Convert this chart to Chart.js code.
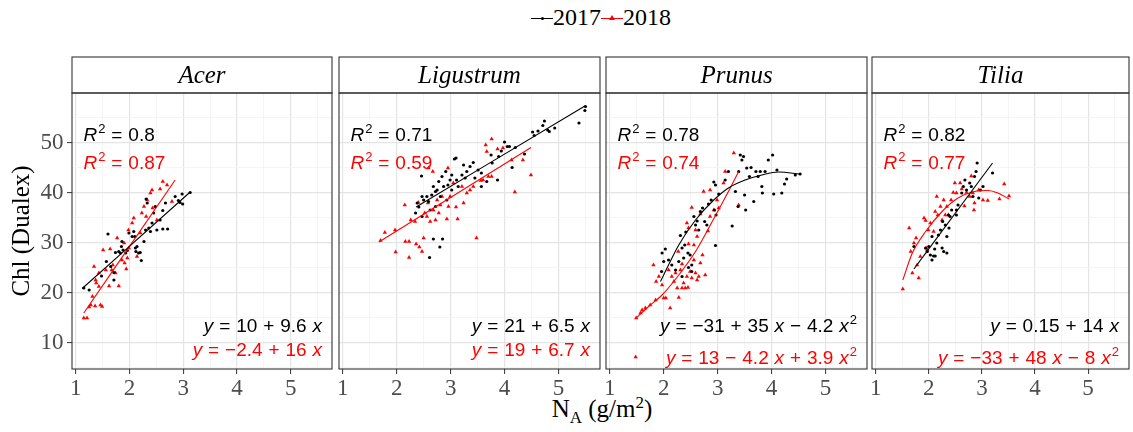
<!DOCTYPE html>
<html>
<head>
<meta charset="utf-8">
<script src="https://cdn.jsdelivr.net/npm/chart.js@4.4.0/dist/chart.umd.min.js"></script>
<style>
  body { margin: 0; width: 1133px; height: 432px; overflow: hidden; background: #fff; position: relative; font-family: 'Liberation Serif', serif; }
  canvas { position: absolute; top: 0; }
  #legend { position: absolute; top: 2px; left: 531px; font-size: 24px; line-height: 30px; white-space: nowrap; color: #000; }
  .key { display: inline-block; position: relative; width: 22px; height: 14px; }
  .key .ln { position: absolute; left: 0; right: 0; top: 7px; height: 1px; }
  .key .dot { position: absolute; left: 9.5px; top: 6px; width: 3px; height: 3px; border-radius: 50%; background: #000; }
  .key .tri { position: absolute; left: 8px; top: 4px; width: 0; height: 0; border-left: 3px solid transparent; border-right: 3px solid transparent; border-bottom: 5px solid #f00; }
  #xtitle { position: absolute; left: 72px; width: 1060px; top: 394px; text-align: center; font-size: 25px; line-height: 30px; color: #000; }
  #xtitle sub, #xtitle sup { font-size: 0.68em; line-height: 0; }
</style>
</head>
<body>
<div id="legend"></div>
<div id="xtitle">N<sub>A</sub> (g/m<sup>2</sup>)</div>
<script>
// categories
const species = ['Acer', 'Ligustrum', 'Prunus', 'Tilia'];
const years = ['2017', '2018'];

// axis ticks
const xTicks = [1, 1.5, 2, 2.5, 3, 3.5, 4, 4.5, 5, 5.5];
const xLabels = [1, 2, 3, 4, 5];
const yTicks = [5, 10, 15, 20, 25, 30, 35, 40, 45, 50, 55];
const yLabels = [10, 20, 30, 40, 50];

// annotations
const r2017 = ['0.8', '0.71', '0.78', '0.82'];
const r2018 = ['0.87', '0.59', '0.74', '0.77'];
const eq2017 = ['y = 10 + 9.6 x', 'y = 21 + 6.5 x', 'y = \u221231 + 35 x \u2212 4.2 x^2', 'y = 0.15 + 14 x'];
const eq2018 = ['y = \u22122.4 + 16 x', 'y = 19 + 6.7 x', 'y = 13 \u2212 4.2 x + 3.9 x^2', 'y = \u221233 + 48 x \u2212 8 x^2'];

// points [NA, Chl]
const acer2017 = [[1.15,20.9],[1.25,20.5],[1.48,23.3],[1.57,26.2],[1.60,31.7],[1.65,25.2],[1.71,24.0],[1.71,22.5],[1.74,28.0],[1.80,28.2],[1.83,27.9],[1.85,29.2],[1.86,30.2],[1.88,28.5],[1.93,27.9],[1.96,28.4],[1.99,31.9],[2.05,31.2],[2.08,32.2],[2.10,31.2],[2.11,28.9],[2.12,28.2],[2.14,29.2],[2.17,27.9],[2.20,28.0],[2.22,26.4],[2.27,30.2],[2.30,32.5],[2.31,38.7],[2.33,37.9],[2.36,32.9],[2.39,32.2],[2.42,33.9],[2.45,35.9],[2.48,37.2],[2.51,32.5],[2.57,34.5],[2.62,36.4],[2.62,32.7],[2.67,37.9],[2.71,32.7],[2.85,39.2],[2.91,38.4],[2.94,38.0],[2.98,39.7],[2.99,37.7],[3.13,40.0]];
const acer2018 = [[1.15,14.9],[1.21,14.9],[1.25,17.1],[1.28,17.5],[1.31,19.2],[1.34,25.2],[1.36,17.3],[1.37,22.5],[1.38,21.9],[1.43,21.2],[1.43,23.9],[1.46,17.5],[1.49,17.2],[1.51,28.5],[1.56,24.5],[1.62,21.3],[1.64,28.7],[1.67,24.5],[1.69,25.5],[1.74,23.9],[1.77,30.9],[1.80,21.3],[1.86,26.5],[1.90,29.9],[1.91,25.9],[1.94,24.7],[1.96,26.9],[1.98,32.5],[1.99,28.9],[2.05,33.9],[2.08,34.9],[2.14,27.2],[2.20,31.9],[2.23,35.9],[2.27,37.2],[2.31,35.2],[2.33,38.5],[2.39,39.9],[2.42,40.5],[2.43,36.9],[2.51,34.5],[2.57,40.7],[2.62,42.2],[2.70,41.5],[2.79,38.2]];
const lig2017 = [[2.35,35.9],[2.38,37.9],[2.41,37.1],[2.46,43.3],[2.47,39.2],[2.47,35.2],[2.50,38.5],[2.56,39.2],[2.59,38.2],[2.61,27.0],[2.62,36.5],[2.65,39.5],[2.68,41.2],[2.68,30.7],[2.72,40.2],[2.72,37.2],[2.75,40.5],[2.78,42.2],[2.80,29.1],[2.81,39.2],[2.84,43.2],[2.85,30.7],[2.87,41.2],[2.91,44.2],[2.93,38.5],[2.95,41.5],[2.99,42.5],[3.02,43.5],[3.02,40.5],[3.07,46.7],[3.10,46.9],[3.11,42.5],[3.14,41.2],[3.21,43.5],[3.24,45.5],[3.27,42.9],[3.30,44.2],[3.36,45.2],[3.42,46.0],[3.45,42.9],[3.51,44.5],[3.57,43.9],[3.57,41.2],[3.67,42.2],[3.75,47.5],[3.77,45.9],[3.87,42.5],[3.89,47.2],[3.94,48.3],[4.00,50.1],[4.05,49.2],[4.09,49.2],[4.14,45.0],[4.20,49.0],[4.37,47.7],[4.52,52.1],[4.55,51.4],[4.62,52.3],[4.71,53.4],[4.74,54.3],[4.80,52.5],[4.83,52.2],[4.93,52.9],[5.38,53.9],[5.49,56.4],[5.50,57.2]];
const lig2018 = [[1.70,30.4],[1.78,32.0],[1.97,32.5],[1.98,28.1],[2.15,37.5],[2.16,30.2],[2.23,30.2],[2.23,27.0],[2.26,34.5],[2.34,34.2],[2.36,29.7],[2.40,38.0],[2.42,29.1],[2.47,28.2],[2.50,30.9],[2.52,35.9],[2.56,35.2],[2.58,37.9],[2.59,44.9],[2.62,34.2],[2.67,44.2],[2.68,36.5],[2.72,34.5],[2.75,38.5],[2.78,35.9],[2.81,37.5],[2.84,39.2],[2.93,34.7],[2.95,44.9],[2.96,37.2],[2.99,39.2],[3.05,41.9],[3.10,37.1],[3.13,34.7],[3.21,41.2],[3.24,37.9],[3.30,39.9],[3.36,40.5],[3.42,41.2],[3.48,30.9],[3.56,42.4],[3.60,42.5],[3.65,49.5],[3.67,48.2],[3.70,43.2],[3.76,50.7],[3.76,43.2],[3.87,48.7],[3.97,48.9],[4.13,46.5],[4.19,40.1],[4.34,46.5],[4.49,43.5]];
const pru2017 = [[1.96,24.2],[1.97,27.9],[2.00,26.2],[2.03,28.7],[2.09,26.5],[2.15,25.5],[2.22,24.5],[2.28,26.2],[2.31,31.4],[2.34,28.9],[2.34,23.2],[2.37,26.9],[2.39,29.5],[2.41,32.1],[2.45,27.9],[2.46,25.0],[2.49,27.5],[2.52,25.5],[2.52,24.2],[2.56,35.2],[2.59,33.5],[2.62,34.3],[2.65,32.5],[2.68,36.2],[2.72,36.9],[2.76,34.2],[2.80,33.5],[2.83,37.7],[2.88,38.5],[2.93,42.1],[2.94,36.5],[2.96,41.5],[2.96,29.4],[2.97,35.5],[3.02,39.7],[3.14,42.5],[3.20,44.2],[3.27,33.3],[3.33,40.2],[3.38,37.2],[3.39,44.2],[3.42,47.5],[3.45,46.5],[3.48,47.2],[3.50,39.5],[3.52,36.5],[3.54,44.9],[3.59,43.2],[3.62,45.0],[3.67,38.2],[3.71,44.2],[3.75,43.2],[3.79,44.2],[3.82,41.2],[3.83,39.9],[3.88,44.2],[3.94,46.5],[4.02,47.5],[4.04,39.7],[4.10,44.5],[4.19,39.9],[4.24,41.7],[4.28,42.7],[4.44,43.5],[4.53,43.7]];
const pru2018 = [[1.48,7.1],[1.49,14.9],[1.57,15.9],[1.60,16.5],[1.66,16.9],[1.75,17.5],[1.81,25.5],[1.85,18.5],[1.86,22.2],[1.91,23.2],[1.97,21.5],[2.00,18.9],[2.04,18.9],[2.09,24.5],[2.12,16.9],[2.15,23.2],[2.19,22.2],[2.22,23.9],[2.25,20.9],[2.27,28.2],[2.28,19.0],[2.31,24.5],[2.34,20.9],[2.34,25.7],[2.37,21.9],[2.40,20.9],[2.43,23.2],[2.43,33.9],[2.45,21.0],[2.46,32.9],[2.46,29.7],[2.49,24.2],[2.52,22.9],[2.52,37.0],[2.56,26.5],[2.56,29.5],[2.59,23.9],[2.59,32.5],[2.62,22.5],[2.62,31.2],[2.65,23.2],[2.68,25.9],[2.68,35.7],[2.72,27.5],[2.74,40.2],[2.77,23.5],[2.82,32.3],[2.86,35.2],[2.86,40.5],[2.93,36.5],[2.99,38.5],[3.02,36.9],[3.11,41.9],[3.14,44.2],[3.30,47.9],[3.39,37.5]];
const til2017 = [[1.72,29.2],[1.94,28.9],[1.97,28.2],[2.00,29.2],[2.03,27.5],[2.06,31.2],[2.06,26.5],[2.09,27.3],[2.11,28.7],[2.12,27.3],[2.15,29.9],[2.18,31.5],[2.22,32.5],[2.25,28.9],[2.26,34.2],[2.28,28.2],[2.31,33.5],[2.34,31.2],[2.34,27.9],[2.37,35.5],[2.38,32.9],[2.40,35.2],[2.43,36.5],[2.52,36.5],[2.52,35.5],[2.55,37.5],[2.62,39.9],[2.65,41.2],[2.68,42.5],[2.71,40.5],[2.77,41.9],[2.80,41.2],[2.83,39.2],[2.86,43.2],[2.89,44.2],[2.91,45.9],[2.94,38.9],[2.97,40.5],[3.02,41.2],[3.20,43.9]];
const til2018 = [[1.51,20.7],[1.63,32.9],[1.66,28.2],[1.69,23.9],[1.72,29.9],[1.76,30.9],[1.78,25.5],[1.81,22.9],[1.84,27.2],[1.91,34.9],[1.94,34.4],[1.95,28.9],[1.97,28.5],[1.99,32.5],[2.03,33.9],[2.09,32.2],[2.12,36.2],[2.15,39.2],[2.17,35.5],[2.22,37.2],[2.25,34.5],[2.28,38.5],[2.31,35.5],[2.34,37.2],[2.37,35.5],[2.42,38.5],[2.46,40.0],[2.49,41.9],[2.52,39.9],[2.59,41.9],[2.62,40.7],[2.67,37.3],[2.71,40.0],[2.77,39.2],[2.80,43.3],[2.83,39.9],[2.85,36.5],[2.86,37.9],[2.94,40.5],[3.02,38.5],[3.11,38.4],[3.33,38.7],[3.42,41.7],[3.51,39.3]];

// fitted curves
const acerFit2017 = [[1.12,20.8],[3.13,40.1]];
const acerFit2018 = [[1.15,15.9],[2.85,42.5]];
const ligFit2017 = [[2.36,37.1],[5.49,57.3]];
const ligFit2018 = [[1.67,30.1],[4.49,49.0]];
const pruFit2017 = [[1.94,22.2],[2.28,29.5],[2.59,34.5],[2.90,38.2],[3.20,40.9],[3.51,42.5],[3.82,43.5],[4.13,44.1],[4.53,43.7]];
const pruFit2018 = [[1.49,14.9],[1.72,17.2],[1.97,19.5],[2.28,23.5],[2.59,28.2],[2.90,34.2],[3.20,40.2],[3.39,44.2]];
const tilFit2017 = [[1.72,24.7],[3.20,45.9]];
const tilFit2018 = [[1.51,22.5],[1.69,27.9],[1.94,32.2],[2.25,36.2],[2.55,38.9],[2.86,40.2],[3.11,40.4],[3.30,39.9],[3.51,38.7]];

const pts2017 = [acer2017, lig2017, pru2017, til2017];
const pts2018 = [acer2018, lig2018, pru2018, til2018];
const fit2017 = [acerFit2017, ligFit2017, pruFit2017, tilFit2017];
const fit2018 = [acerFit2018, ligFit2018, pruFit2018, tilFit2018];

const serif = '"Liberation Serif", "Times New Roman", serif';
const sans = '"Liberation Sans", Arial, sans-serif';
const mathSize = 19;

// legend
document.getElementById('legend').innerHTML =
  '<span class="key"><i class="ln" style="background:#000"></i><i class="dot"></i></span>' + years[0] +
  '<span class="key"><i class="ln" style="background:#f00"></i><i class="tri"></i></span>' + years[1];

// split "y = 10 + 9.6 x^2" into pieces: italic letters, superscripts, gaps
function pieces(str) {
  const out = [];
  str.split(' ').forEach((tok, k) => {
    if (k > 0) out.push({ gap: true });
    for (let j = 0; j < tok.length; j++) {
      const c = tok[j];
      if (c === '^') { out.push({ t: tok[j + 1], sup: true }); j++; }
      else out.push({ t: c, it: /[xyR]/.test(c) });
    }
  });
  return out;
}

function fontOf(p) {
  if (p.sup) return Math.round(mathSize * 0.7) + 'px ' + sans;
  return (p.it ? 'italic ' : '') + mathSize + 'px ' + sans;
}

function drawMath(ctx, str, x, y, align, color) {
  const ps = pieces(str);
  const gap = mathSize * 0.31;
  let total = 0;
  ps.forEach(p => {
    if (p.gap) { p.w = gap; }
    else { ctx.font = fontOf(p); p.w = ctx.measureText(p.t).width + (p.sup ? 1 : 0); }
    total += p.w;
  });
  let cx = align === 'right' ? x - total : x;
  ctx.fillStyle = color;
  ctx.textAlign = 'left';
  ctx.textBaseline = 'alphabetic';
  ps.forEach(p => {
    if (!p.gap) {
      ctx.font = fontOf(p);
      ctx.fillText(p.t, cx + (p.sup ? 1 : 0), p.sup ? y - 8 : y);
    }
    cx += p.w;
  });
}

const panelDeco = {
  id: 'panelDeco',
  afterDraw(chart, args, opts) {
    const { ctx, chartArea: a } = chart;
    const i = opts.index;
    const w = a.right - a.left;
    ctx.save();
    ctx.fillStyle = '#fff';
    ctx.fillRect(a.left, a.top - 36, w, 36);
    ctx.strokeStyle = '#333';
    ctx.lineWidth = 1.1;
    ctx.strokeRect(a.left, a.top - 36, w, 36);
    ctx.strokeRect(a.left, a.top, w, a.bottom - a.top);
    ctx.fillStyle = '#000';
    ctx.font = 'italic 25px ' + serif;
    ctx.textAlign = 'center';
    ctx.textBaseline = 'middle';
    ctx.fillText(species[i], (a.left + a.right) / 2, a.top - 17);

    drawMath(ctx, 'R^2 = ' + r2017[i], a.left + 11.5, a.top + 47.5, 'left', '#000');
    drawMath(ctx, 'R^2 = ' + r2018[i], a.left + 11.5, a.top + 76, 'left', '#ff0000');
    drawMath(ctx, eq2017[i], a.right - 10, a.bottom - 37.5, 'right', '#000');
    const low = eq2018[i].indexOf('^') >= 0 ? 5 : 13.5;
    drawMath(ctx, eq2018[i], a.right - 10, a.bottom - low, 'right', '#ff0000');
    ctx.restore();
  }
};

const frames = [
  { left: 0, width: 336, yW: 72, padR: 3 },
  { left: 329, width: 279, yW: 10, padR: 8 },
  { left: 596, width: 279, yW: 10, padR: 8 },
  { left: 862, width: 271, yW: 10, padR: 1 }
];

const toXY = arr => arr.map(p => ({ x: p[0], y: p[1] }));

species.forEach((name, i) => {
  const f = frames[i];
  const cv = document.createElement('canvas');
  cv.width = f.width;
  cv.height = 432;
  cv.style.left = f.left + 'px';
  document.body.appendChild(cv);
  const first = i === 0;

  new Chart(cv.getContext('2d'), {
    type: 'scatter',
    data: {
      datasets: [
        { label: years[0] + ' fit', data: toXY(fit2017[i]), showLine: true, borderColor: '#000', borderWidth: 1.1, pointRadius: 0, cubicInterpolationMode: 'monotone' },
        { label: years[1] + ' fit', data: toXY(fit2018[i]), showLine: true, borderColor: '#ff0000', borderWidth: 1.1, pointRadius: 0, cubicInterpolationMode: 'monotone' },
        { label: years[0], data: toXY(pts2017[i]), pointStyle: 'circle', pointRadius: 1.6, backgroundColor: '#000', borderWidth: 0 },
        { label: years[1], data: toXY(pts2018[i]), pointStyle: 'triangle', pointRadius: 2.5, backgroundColor: '#ff0000', borderWidth: 0 }
      ]
    },
    options: {
      responsive: false,
      animation: false,
      events: [],
      layout: { padding: { top: 93, right: f.padR, bottom: 0, left: 0 } },
      plugins: { legend: { display: false }, tooltip: { enabled: false }, panelDeco: { index: i } },
      scales: {
        x: {
          type: 'linear', min: 0.93, max: 5.77,
          afterBuildTicks: s => { s.ticks = xTicks.map(v => ({ value: v })); },
          afterFit: s => { s.height = 63; },
          border: { display: false },
          grid: {
            color: c => xLabels.includes(c.tick.value) ? '#e4e4e4' : '#f2f2f2',
            lineWidth: c => xLabels.includes(c.tick.value) ? 1.2 : 0.8,
            tickColor: c => xLabels.includes(c.tick.value) ? '#333' : 'rgba(0,0,0,0)',
            tickLength: 5, tickWidth: 1
          },
          ticks: {
            autoSkip: false, maxRotation: 0, padding: 1, color: '#4d4d4d',
            font: { family: serif, size: 23 },
            callback: v => xLabels.includes(v) ? String(v) : ''
          }
        },
        y: {
          type: 'linear', min: 4.7, max: 59.9,
          afterBuildTicks: s => { s.ticks = yTicks.map(v => ({ value: v })); },
          afterFit: s => { s.width = f.yW; },
          border: { display: false },
          title: { display: first, text: 'Chl (Dualex)', color: '#000', font: { family: serif, size: 25 }, padding: { top: 7, bottom: 0 } },
          grid: {
            color: c => yLabels.includes(c.tick.value) ? '#e4e4e4' : '#f2f2f2',
            lineWidth: c => yLabels.includes(c.tick.value) ? 1.2 : 0.8,
            tickColor: c => yLabels.includes(c.tick.value) ? '#333' : 'rgba(0,0,0,0)',
            drawTicks: first, tickLength: 5, tickWidth: 1
          },
          ticks: {
            display: first, autoSkip: false, padding: 3.5, color: '#4d4d4d',
            font: { family: serif, size: 23 },
            callback: v => yLabels.includes(v) ? String(v) : ''
          }
        }
      }
    },
    plugins: [panelDeco]
  });
});
</script>
</body>
</html>
